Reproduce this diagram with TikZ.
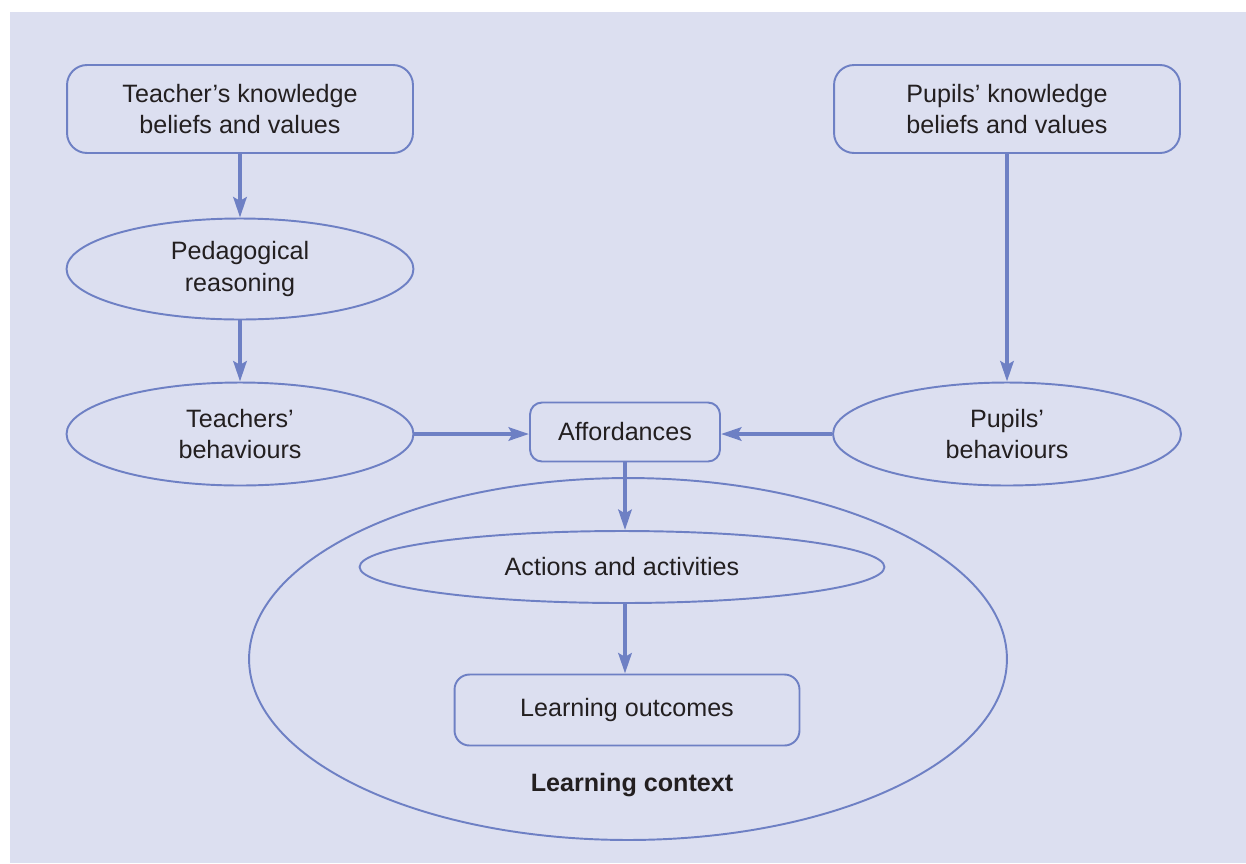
\documentclass[tikz,border=0pt]{standalone}
\usepackage{fontspec}
\setmainfont{Liberation Sans}
\usetikzlibrary{shapes.geometric,arrows.meta}
\definecolor{bgblue}{RGB}{220,223,240}
\definecolor{lineblue}{RGB}{110,128,196}
\definecolor{textdark}{RGB}{35,31,32}
\begin{document}
\begin{tikzpicture}[x=0.02cm,y=-0.02cm,
    font=\fontsize{14.3}{18}\selectfont, text=textdark,
    box/.style={draw=lineblue, line width=1.1pt, rounded corners=0.4cm, align=center, inner sep=0pt},
    oval/.style={draw=lineblue, line width=1.1pt, ellipse, align=center, inner sep=0pt},
    flow/.style={draw=lineblue, line width=2.4pt, -{Stealth[length=11.5pt,width=7.5pt,inset=2pt]}}]
            \useasboundingbox (0,0) rectangle (1246,863);
            \fill[white] (0,0) rectangle (1246,863);
            \fill[bgblue] (10,12) rectangle (1246,863);

            \node[oval, minimum width=15.16cm, minimum height=7.24cm] (context) at (628,659) {};
            \node[font=\fontsize{14.3}{18}\selectfont\bfseries] (contextlabel) at (632,785) {Learning context};

            \node[box, minimum width=6.92cm, minimum height=1.76cm] (tknow) at (240,109) {Teacher’s knowledge\\beliefs and values};
            \node[box, minimum width=6.92cm, minimum height=1.76cm] (pknow) at (1007,109) {Pupils’ knowledge\\beliefs and values};

            \node[oval, minimum width=6.94cm, minimum height=2.02cm] (reason) at (240,269) {Pedagogical\\reasoning};
            \node[oval, minimum width=6.94cm, minimum height=2.06cm] (tbeh) at (240,434) {Teachers’\\behaviours};
            \node[oval, minimum width=6.96cm, minimum height=2.06cm] (pbeh) at (1007,434) {Pupils’\\behaviours};

            \node[box, rounded corners=0.24cm, minimum width=3.8cm, minimum height=1.18cm] (afford) at (625,432) {Affordances};
            \node[oval, minimum width=10.5cm, minimum height=1.44cm] (actions) at (622,567) {Actions and activities};
            \node[box, rounded corners=0.3cm, minimum width=6.9cm, minimum height=1.42cm] (outcome) at (627,710) {Learning outcomes};

            \draw[flow] (tknow) -- (reason);
            \draw[flow] (reason) -- (tbeh);
            \draw[flow] (pknow) -- (pbeh);
            \draw[flow] (tbeh.east) -- (afford.west |- tbeh.east);
            \draw[flow] (pbeh.west) -- (afford.east |- pbeh.west);
            \draw[flow] (afford.south) -- (actions.north -| afford.south);
            \draw[flow] (actions.south -| afford.south) -- (outcome.north -| afford.south);
        \end{tikzpicture}
\end{document}
